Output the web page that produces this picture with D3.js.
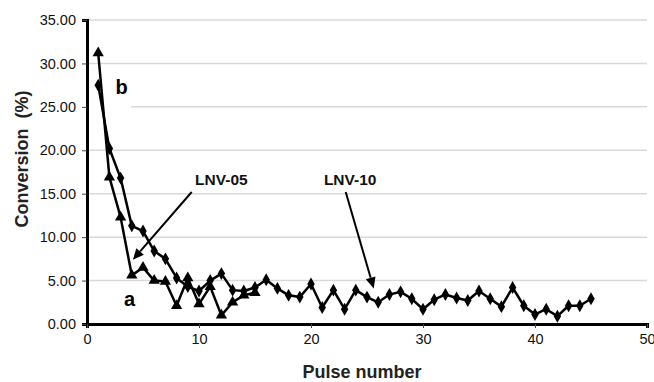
<!DOCTYPE html>
<html>
<head>
<meta charset="utf-8">
<script src="https://cdn.jsdelivr.net/npm/d3@7"></script>
<style>
  body { margin: 0; background: #fff; }
  svg { display: block; font-family: "Liberation Sans", Arial, sans-serif; }
</style>
</head>
<body>
<script>
// pulse numbers and conversion (%)
const pulsesA = d3.range(1, 16);
const convA = [31.2, 16.9, 12.3, 5.6, 6.5, 5.0, 4.9, 2.1, 5.3, 2.3, 4.3, 1.0, 2.5, 3.3, 3.6];

const pulsesB = d3.range(1, 46);
const convB = [27.5, 20.2, 16.8, 11.3, 10.7, 8.4, 7.5, 5.3, 4.3, 3.8,
               5.0, 5.8, 3.9, 3.8, 4.2, 5.1, 4.1, 3.3, 3.1, 4.6,
               1.9, 3.9, 1.7, 3.9, 3.1, 2.5, 3.4, 3.7, 2.9, 1.7,
               2.8, 3.4, 3.0, 2.7, 3.8, 2.9, 2.0, 4.2, 2.1, 1.1,
               1.7, 0.9, 2.1, 2.1, 2.9];

const yTicks = [0, 5, 10, 15, 20, 25, 30, 35];
const xTicks = [0, 10, 20, 30, 40, 50];

const width = 654, height = 382;
const x = d3.scaleLinear().domain([0, 50]).range([87, 647]);
const y = d3.scaleLinear().domain([0, 35]).range([324, 20]);

const svg = d3.select("body").append("svg").attr("width", width).attr("height", height);

// gridlines
svg.append("g").selectAll("line").data(yTicks.slice(1)).join("line")
  .attr("x1", x(0)).attr("x2", x(50))
  .attr("y1", d => y(d)).attr("y2", d => y(d))
  .attr("stroke", "#d9d9d9").attr("stroke-width", 1.5);

// white box behind "b"
svg.append("rect").attr("x", x(0) + 2).attr("y", y(29.5)).attr("width", 42).attr("height", 42).attr("fill", "#fff");

// axes
const yAxis = svg.append("g").attr("transform", `translate(${x(0)},0)`)
  .call(d3.axisLeft(y).tickValues(yTicks).tickFormat(d3.format(".2f")).tickSize(5).tickPadding(6));
const xAxis = svg.append("g").attr("transform", `translate(0,${y(0)})`)
  .call(d3.axisBottom(x).tickValues(xTicks).tickSize(4).tickPadding(6));
[yAxis, xAxis].forEach(g => {
  g.select(".domain").attr("stroke", "#000").attr("stroke-width", 3);
  g.selectAll(".tick line").attr("stroke", "#444");
  g.selectAll("text").attr("font-size", 14.5).attr("fill", "#111")
    .attr("font-family", "Liberation Sans, Arial, sans-serif");
});

// axis titles
svg.append("text").attr("transform", `translate(28,${y(19)}) rotate(-90)`)
  .attr("text-anchor", "middle").attr("font-weight", "bold").attr("font-size", 18)
  .attr("fill", "#222").attr("xml:space", "preserve").text("Conversion  (%)");
svg.append("text").attr("x", 362).attr("y", 378)
  .attr("text-anchor", "middle").attr("font-weight", "bold").attr("font-size", 18)
  .attr("fill", "#222").text("Pulse number");

// series lines
const line = d3.line().x(d => x(d[0])).y(d => y(d[1]));
const dataA = pulsesA.map((p, i) => [p, convA[i]]);
const dataB = pulsesB.map((p, i) => [p, convB[i]]);

svg.append("path").datum(dataB).attr("d", line).attr("fill", "none")
  .attr("stroke", "#000").attr("stroke-width", 2.5).attr("stroke-linejoin", "round");
svg.append("path").datum(dataA).attr("d", line).attr("fill", "none")
  .attr("stroke", "#000").attr("stroke-width", 2.5).attr("stroke-linejoin", "round");

svg.append("g").selectAll("path").data(dataB).join("path")
  .attr("transform", d => `translate(${x(d[0])},${y(d[1])})`)
  .attr("d", d3.symbol(d3.symbolDiamond, 48)).attr("fill", "#000");
svg.append("g").selectAll("path").data(dataA).join("path")
  .attr("transform", d => `translate(${x(d[0])},${y(d[1])})`)
  .attr("d", d3.symbol(d3.symbolTriangle, 55)).attr("fill", "#000");

// annotations
const arrows = [
  { label: "LNV-05", lx: 12.0, ly: 16.6, from: [9.35, 15.2], to: [4.1, 7.4] },
  { label: "LNV-10", lx: 23.5, ly: 16.6, from: [23.1, 15.2], to: [25.6, 4.1] }
];
arrows.forEach(a => {
  const x1 = x(a.from[0]), y1 = y(a.from[1]), x2 = x(a.to[0]), y2 = y(a.to[1]);
  const ang = Math.atan2(y2 - y1, x2 - x1), L = 11, W = 5;
  const bx = x2 - L * Math.cos(ang), by = y2 - L * Math.sin(ang);
  svg.append("line").attr("x1", x1).attr("y1", y1).attr("x2", bx).attr("y2", by)
    .attr("stroke", "#000").attr("stroke-width", 2);
  svg.append("path").attr("fill", "#000")
    .attr("d", `M${x2},${y2}L${bx + W * Math.sin(ang)},${by - W * Math.cos(ang)}L${bx - W * Math.sin(ang)},${by + W * Math.cos(ang)}Z`);
  svg.append("text").attr("x", x(a.lx)).attr("y", y(a.ly)).attr("dy", "0.35em")
    .attr("text-anchor", "middle").attr("font-weight", "bold").attr("font-size", 15.5)
    .attr("fill", "#111").text(a.label);
});

svg.append("text").attr("x", x(3.1)).attr("y", y(27.3)).attr("dy", "0.35em")
  .attr("text-anchor", "middle").attr("font-weight", "bold").attr("font-size", 20).text("b");
svg.append("text").attr("x", x(3.8)).attr("y", y(2.9)).attr("dy", "0.35em")
  .attr("text-anchor", "middle").attr("font-weight", "bold").attr("font-size", 20).text("a");
</script>
</body>
</html>
